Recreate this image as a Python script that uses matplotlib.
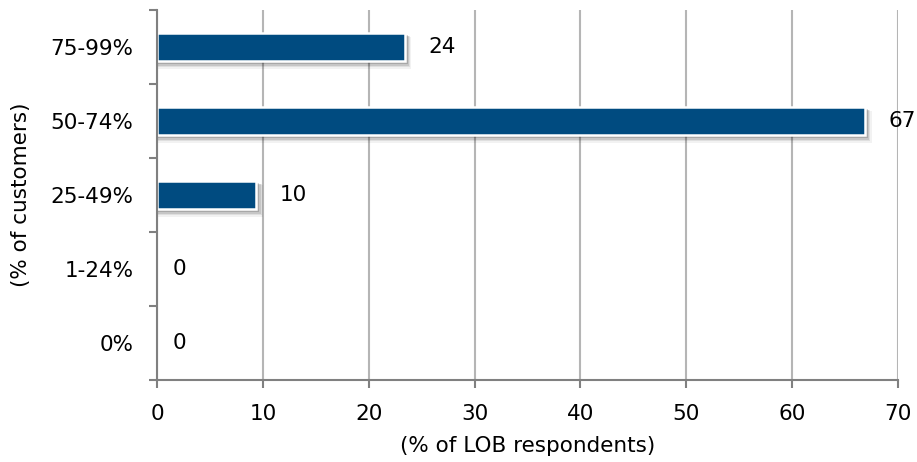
import matplotlib
matplotlib.use("Agg")
import matplotlib.pyplot as plt
import numpy as np

categories = ["0%", "1-24%", "25-49%", "50-74%", "75-99%"]
values = [0, 0, 9.4, 66.9, 23.4]
value_labels = ["0", "0", "10", "67", "24"]
x_ticks = [0, 10, 20, 30, 40, 50, 60, 70]

plt.rcParams['font.family'] = ['DejaVu Sans']
FS = 15.5
fig = plt.figure(figsize=(9.17, 4.62), dpi=100)
ax = fig.add_axes([0.1712, 0.1775, 0.8081, 0.8009])

y = np.arange(len(categories))
h = 0.39
# soft drop shadow
for dx, dy, extra, a in [(0.5, -0.08, 0.05, 0.05), (0.4, -0.065, 0.03, 0.08),
                         (0.3, -0.05, 0.015, 0.11), (0.18, -0.035, 0.0, 0.15)]:
    ax.barh(y + dy, [v + dx if v > 0 else 0 for v in values], height=h + extra, left=0.1,
            color='black', alpha=a, linewidth=0, zorder=2)
edge = ['white' if v > 0 else 'none' for v in values]
ax.barh(y, values, height=h, color='#004b80', edgecolor=edge, linewidth=1.8, zorder=3)

for yi, v, lab in zip(y, values, value_labels):
    off = 17 if v > 0 else 11
    ax.annotate(lab, xy=(v, yi), xytext=(off, 0), textcoords='offset points',
                ha='left', va='center', fontsize=FS, color='black', zorder=4)

ax.set_xlim(0, 70)
ax.set_ylim(-0.5, len(categories) - 0.5)
ax.set_xticks(x_ticks)
ax.set_xticklabels([str(t) for t in x_ticks], fontsize=FS)
ax.set_yticks(y)
ax.set_yticklabels(categories, fontsize=FS)
ax.set_yticks(np.arange(-0.5, len(categories), 1.0), minor=True)
ax.tick_params(axis='y', which='major', length=0, pad=17)
ax.tick_params(axis='y', which='minor', length=6, color='#808080', width=1.5)
ax.tick_params(axis='x', which='major', length=6, color='#808080', width=1.5, pad=11)
ax.grid(axis='x', color='#b5b5b5', linewidth=1.5, zorder=0)
ax.set_axisbelow(True)
for s in ['top', 'right']:
    ax.spines[s].set_visible(False)
for s in ['left', 'bottom']:
    ax.spines[s].set_color('#808080')
    ax.spines[s].set_linewidth(1.5)
    ax.spines[s].set_zorder(5)

ax.set_xlabel("(% of LOB respondents)", fontsize=FS, labelpad=9)
ax.set_ylabel("(% of customers)", fontsize=FS, labelpad=14)

fig.savefig("out.png", dpi=100, facecolor='white')
